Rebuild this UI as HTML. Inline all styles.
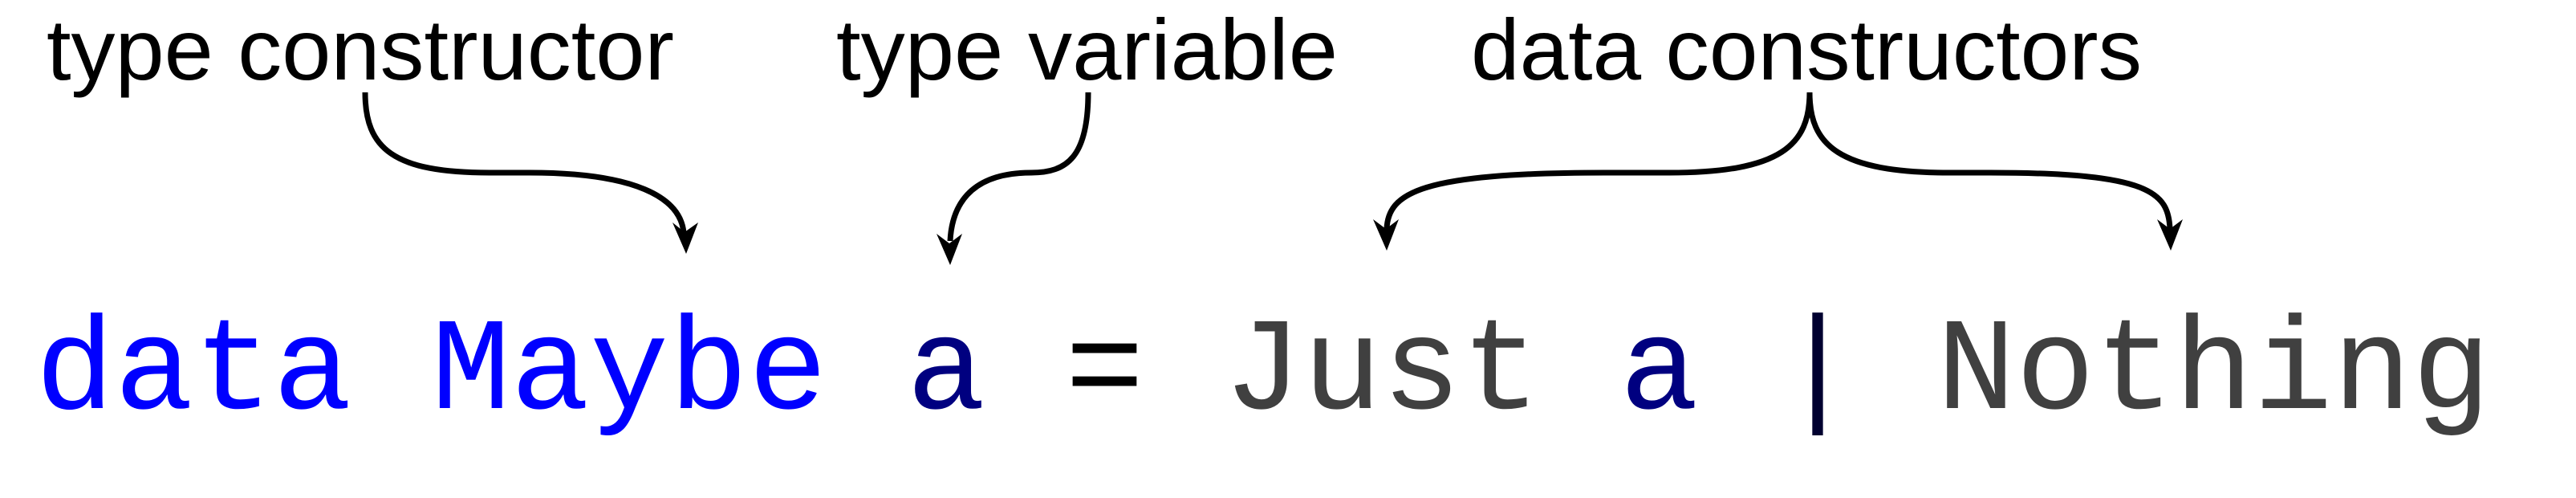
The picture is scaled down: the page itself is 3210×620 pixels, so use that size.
<!DOCTYPE html>
<html><head><meta charset="utf-8"><style>
html,body{margin:0;padding:0;background:#fff;}
body{width:3210px;height:620px;position:relative;overflow:hidden;}
svg{position:absolute;left:0;top:0;}
</style></head><body>
<svg width="3210" height="620" viewBox="0 0 3210 620" xmlns="http://www.w3.org/2000/svg">
<g font-family="Liberation Sans, Arial, sans-serif" font-size="108" fill="#000">
<text x="58" y="99" textLength="782" lengthAdjust="spacingAndGlyphs">type constructor</text>
<text x="1042" y="99" textLength="625" lengthAdjust="spacingAndGlyphs">type variable</text>
<text x="1833" y="99" textLength="836" lengthAdjust="spacingAndGlyphs">data constructors</text>
</g>
<g fill="none" stroke="#000" stroke-width="7" stroke-linecap="butt">
<path d="M455,115 C455,185 490,215 610,215 L660,215 C790,215 848,245 852,290"/>
<path d="M1356,115 C1356,195 1330,215 1285,215 C1205,215 1186,260 1184,300"/>
<path d="M2255,115 C2255,180 2220,215 2080,215 L2000,215 C1770,215 1730,240 1728,285"/>
<path d="M2255,115 C2255,180 2290,215 2430,215 L2480,215 C2680,215 2702,240 2704,285"/>
</g>
<g fill="#000">
<polygon points="855,316 838,277 853,289 870,277"/>
<polygon points="1184,330 1167,291 1183,303 1199,291"/>
<polygon points="1728,312 1711,273 1727,285 1743,273"/>
<polygon points="2705,312 2688,273 2704,285 2720,273"/>
</g>
<g font-family="Liberation Mono, DejaVu Sans Mono, monospace" font-size="164" xml:space="preserve">
<text x="44" y="508" textLength="3060" lengthAdjust="spacing"><tspan fill="#0000ff">data Maybe</tspan><tspan fill="#000080"> a</tspan><tspan fill="#000"> =</tspan><tspan fill="#404040"> Just</tspan><tspan fill="#000080"> a</tspan><tspan fill="#000030"> |</tspan><tspan fill="#404040"> Nothing</tspan></text>
</g>
</svg>
</body></html>
